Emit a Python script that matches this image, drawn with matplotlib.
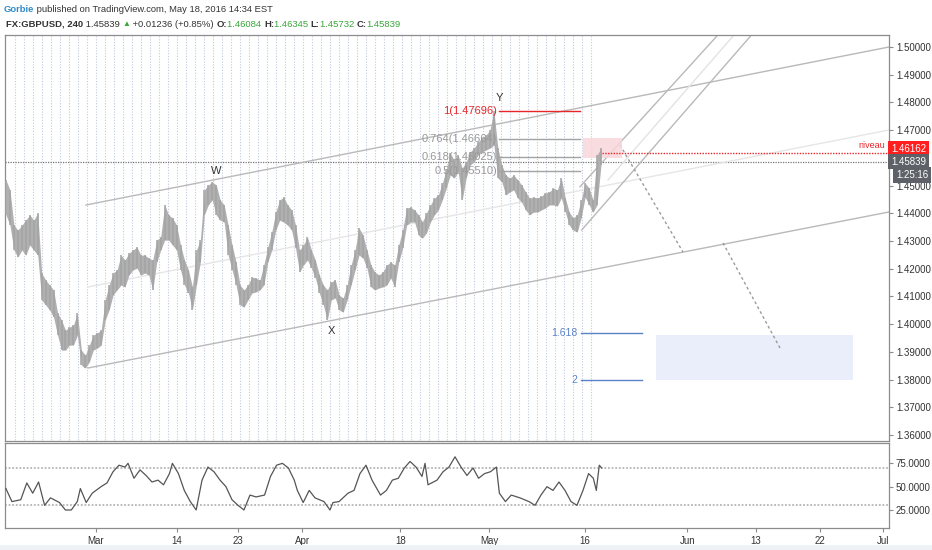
import matplotlib
matplotlib.use('Agg')
import matplotlib.pyplot as plt
import numpy as np
from matplotlib.patches import Rectangle

# ------------------------------------------------------------------ data
# 4h-ish price bars (high / low), GBPUSD, Feb 16 .. May 18 2016
bar_high = [
    1.4520, 1.4484, 1.4357, 1.4339, 1.4357, 1.4375, 1.4394, 1.4375, 1.4401, 1.4184,
    1.4159, 1.4141, 1.4123, 1.4040, 1.4014, 1.3978, 1.3989, 1.3996, 1.4040, 1.3906,
    1.3888, 1.3924, 1.3960, 1.3968, 1.3978, 1.4087, 1.4141, 1.4184, 1.4195, 1.4249,
    1.4231, 1.4256, 1.4267, 1.4278, 1.4249, 1.4249, 1.4238, 1.4231, 1.4303, 1.4314,
    1.4430, 1.4394, 1.4383, 1.4357, 1.4285, 1.4231, 1.4195, 1.4134, 1.4267, 1.4303,
    1.4484, 1.4502, 1.4513, 1.4502, 1.4448, 1.4430, 1.4357, 1.4285, 1.4224, 1.4141,
    1.4123, 1.4141, 1.4170, 1.4166, 1.4159, 1.4213, 1.4278, 1.4332, 1.4404, 1.4448,
    1.4458, 1.4430, 1.4412, 1.4357, 1.4267, 1.4285, 1.4314, 1.4267, 1.4231, 1.4177,
    1.4141, 1.4123, 1.4152, 1.4159, 1.4105, 1.4094, 1.4141, 1.4213, 1.4267, 1.4347,
    1.4321, 1.4267, 1.4213, 1.4188, 1.4177, 1.4188, 1.4213, 1.4224, 1.4213, 1.4285,
    1.4339, 1.4419, 1.4422, 1.4412, 1.4394, 1.4368, 1.4401, 1.4430, 1.4455, 1.4466,
    1.4509, 1.4556, 1.4617, 1.4592, 1.4610, 1.4563, 1.4585, 1.4621, 1.4635, 1.4657,
    1.4672, 1.4682, 1.4700, 1.4770, 1.4635, 1.4574, 1.4538, 1.4527, 1.4538, 1.4520,
    1.4502, 1.4477, 1.4455, 1.4458, 1.4455, 1.4462, 1.4473, 1.4477, 1.4491, 1.4484,
    1.4527, 1.4455, 1.4404, 1.4383, 1.4394, 1.4448, 1.4509, 1.4491, 1.4448, 1.4610,
    1.4635]
bar_low = [
    1.4394, 1.4357, 1.4267, 1.4242, 1.4267, 1.4249, 1.4285, 1.4267, 1.4249, 1.4087,
    1.4069, 1.4051, 1.4025, 1.3960, 1.3906, 1.3906, 1.3924, 1.3924, 1.3960, 1.3852,
    1.3841, 1.3863, 1.3906, 1.3913, 1.3924, 1.4014, 1.4051, 1.4105, 1.4123, 1.4141,
    1.4134, 1.4177, 1.4195, 1.4202, 1.4177, 1.4184, 1.4177, 1.4123, 1.4224, 1.4267,
    1.4303, 1.4303, 1.4285, 1.4267, 1.4195, 1.4141, 1.4112, 1.4051, 1.4141, 1.4224,
    1.4394, 1.4430, 1.4448, 1.4394, 1.4375, 1.4368, 1.4249, 1.4195, 1.4141, 1.4069,
    1.4061, 1.4087, 1.4112, 1.4116, 1.4123, 1.4141, 1.4224, 1.4267, 1.4339, 1.4375,
    1.4368, 1.4357, 1.4339, 1.4274, 1.4188, 1.4213, 1.4231, 1.4202, 1.4166, 1.4112,
    1.4069, 1.4014, 1.4087, 1.4094, 1.4051, 1.4043, 1.4087, 1.4141, 1.4195, 1.4249,
    1.4238, 1.4202, 1.4134, 1.4123, 1.4130, 1.4134, 1.4141, 1.4166, 1.4134, 1.4224,
    1.4274, 1.4357, 1.4368, 1.4368, 1.4321, 1.4310, 1.4329, 1.4368, 1.4394, 1.4412,
    1.4448, 1.4491, 1.4538, 1.4527, 1.4549, 1.4448, 1.4527, 1.4574, 1.4585, 1.4610,
    1.4621, 1.4628, 1.4635, 1.4646, 1.4527, 1.4513, 1.4466, 1.4477, 1.4484, 1.4455,
    1.4440, 1.4412, 1.4394, 1.4404, 1.4404, 1.4412, 1.4419, 1.4430, 1.4430, 1.4426,
    1.4455, 1.4404, 1.4357, 1.4339, 1.4332, 1.4383, 1.4458, 1.4430, 1.4404, 1.4430,
    1.4574]
first_bar_day = -10.0      # trading-day index (0 = Mar 1)
last_bar_day = 56.11

# RSI(14)
rsi_day = [
    -10.01, -9.34, -8.36, -7.69, -7.03, -6.38, -5.71, -5.06, -4.06, -3.40,
    -2.74, -2.08, -1.74, -1.09, -0.42, 0.56, 1.22, 1.89, 2.56, 3.22,
    3.56, 4.22, 4.89, 5.56, 6.22, 6.89, 7.50, 8.16, 8.49, 9.16,
    9.81, 10.48, 11.13, 11.78, 12.44, 13.11, 13.78, 14.44, 15.11, 15.78,
    16.44, 17.11, 17.78, 18.73, 19.39, 20.06, 20.71, 21.38, 22.03, 22.37,
    23.02, 23.69, 24.33, 25.33, 26.00, 26.33, 27.00, 28.00, 28.67, 29.33,
    30.00, 30.67, 31.61, 32.27, 32.93, 33.59, 34.26, 34.89, 35.56, 36.22,
    36.56, 36.89, 37.89, 38.56, 39.22, 39.89, 40.56, 41.22, 41.89, 42.51,
    43.17, 43.83, 44.49, 44.82, 45.49, 46.14, 47.11, 48.11, 48.78, 49.44,
    50.11, 50.78, 51.44, 52.11, 52.78, 53.44, 54.11, 54.73, 55.26, 55.59,
    55.92, 56.19]
rsi_val = [
    48, 34, 36, 54, 43, 55, 30, 38, 33, 25,
    25, 34, 48, 33, 43, 50, 54, 66, 73, 71,
    75, 59, 68, 62, 55, 57, 52, 64, 75, 64,
    46, 34, 25, 57, 71, 66, 57, 50, 36, 30,
    25, 41, 39, 41, 61, 73, 75, 70, 57, 46,
    33, 46, 38, 34, 25, 33, 34, 43, 46, 64,
    73, 57, 41, 46, 57, 59, 70, 77, 71, 61,
    75, 52, 57, 66, 71, 82, 71, 62, 70, 59,
    64, 66, 71, 43, 34, 41, 38, 34, 30, 41,
    50, 46, 55, 46, 34, 30, 46, 64, 59, 46,
    73, 70]

date_labels = ['Mar', '14', '23', 'Apr', '18', 'May', '16', 'Jun', '13', '22', 'Jul']
date_pos = [0.0, 9.0, 15.8, 22.9, 33.8, 43.7, 54.3, 65.7, 73.3, 80.4, 87.5]
price_ticks = [1.36, 1.37, 1.38, 1.39, 1.40, 1.41, 1.42, 1.43, 1.44, 1.45, 1.46, 1.47, 1.48, 1.49, 1.50]
hidden_price_ticks = [1.46]          # covered by the price boxes in the reference
rsi_ticks = [25, 50, 75]

last_price = 1.45839
niveau_price = 1.46162
fib_names = ['1', '0.764', '0.618', '0.5']
fib_prices = [1.47696, 1.46664, 1.46025, 1.45510]
ext_names = ['1.618', '2']
ext_prices = [1.39679, 1.37983]
wave_names = ['W', 'X', 'Y']
wave_day = [13.33, 26.11, 44.78]
wave_price = [1.45525, 1.39751, 1.48160]

# trend drawings: (day0, price0, day1, price1)
channel_lines = [(-1.11, 1.44298, 88.11, 1.50000),
                 (-0.89, 1.38416, 88.11, 1.44046)]
channel_mid = [(-0.89, 1.41339, 88.11, 1.47005)]
rising_lines = [(53.97, 1.43396, 74.28, 1.50974),
                (53.78, 1.44959, 70.61, 1.50974)]
rising_mid = [(56.89, 1.45200, 72.33, 1.50974)]
projections = [(58.22, 1.46463, 65.22, 1.42602),
               (69.67, 1.42927, 76.00, 1.39138)]

header_line1 = [('Gorbie', '#2e8bc9', 'bold'),
                (' published on TradingView.com, May 18, 2016 14:34 EST', '#333333', 'normal')]
header_line2 = [('FX:GBPUSD, 240', '#333333', 'bold'),
                (' 1.45839 ', '#333333', 'normal'),
                ('▲', '#3aa63a', 'normal'),
                (' +0.01236 (+0.85%) ', '#333333', 'normal'),
                ('O:', '#333333', 'bold'), ('1.46084 ', '#3aa63a', 'normal'),
                ('H:', '#333333', 'bold'), ('1.46345 ', '#3aa63a', 'normal'),
                ('L:', '#333333', 'bold'), ('1.45732 ', '#3aa63a', 'normal'),
                ('C:', '#333333', 'bold'), ('1.45839', '#3aa63a', 'normal')]

# ------------------------------------------------------------------ figure
W, H = 932, 550
fig = plt.figure(figsize=(W / 100, H / 100), dpi=100)
fig.patch.set_facecolor('white')
plt.rcParams['font.family'] = ['Liberation Sans', 'DejaVu Sans']

def fx(px):
    return px / W

def fy(py):
    return 1 - py / H

# bottom light band
fig.patches.append(Rectangle((0, 0), 1, fy(545), transform=fig.transFigure,
                             facecolor='#eef1f6', edgecolor='none', zorder=0))

L, R = 5, 889
ax = fig.add_axes([fx(L), fy(441), fx(R - L), (441 - 35) / H])
axr = fig.add_axes([fx(L), fy(528), fx(R - L), (528 - 443) / H], sharex=ax)

xmin, xmax = (L - 96) / 9.0, (R - 96) / 9.0
ax.set_xlim(xmin, xmax)
ax.set_ylim(1.5 - (441 - 47) / 2771, 1.5 + 12 / 2771)
axr.set_ylim(5.7, 96.8)

spine_c = '#8c8c8c'
for a in (ax, axr):
    for s in a.spines.values():
        s.set_color(spine_c)
        s.set_linewidth(0.9)

# session separators (one per trading day)
days = np.arange(-9, 56)
ax.vlines(days, 1.30, 1.60, colors='#c0c9df', linestyles=(0, (1, 1.5)), linewidth=0.8, zorder=1)

# bars
t = np.linspace(first_bar_day, last_bar_day, len(bar_high))
ax.fill_between(t, bar_low, bar_high, color='#b0b0b0', linewidth=0, zorder=3)
ax.vlines(t, bar_low, bar_high, colors='#a4a4a4', linewidth=1.1, zorder=3)

# current price dotted line and niveau
ax.axhline(last_price, color='#777777', linestyle=(0, (1, 1)), linewidth=0.9, zorder=2)
ax.plot([56.19, xmax + 1], [niveau_price] * 2, color='#e8262a', linestyle=(0, (1, 1)),
        linewidth=1.0, zorder=4)
ax.text(xmax - 0.45, niveau_price + 0.0013, 'niveau', color='#e8262a', fontsize=6.5,
        ha='right', va='bottom', zorder=6)

# channels
for d0, p0, d1, p1 in channel_lines:
    ax.plot([d0, d1], [p0, p1], color='#b9b9b9', linewidth=1.0, zorder=2)
for d0, p0, d1, p1 in channel_mid:
    ax.plot([d0, d1], [p0, p1], color='#e6e6e6', linewidth=1.0, zorder=2)
for d0, p0, d1, p1 in rising_lines:
    ax.plot([d0, d1], [p0, p1], color='#b9b9b9', linewidth=1.0, zorder=2)
for d0, p0, d1, p1 in rising_mid:
    ax.plot([d0, d1], [p0, p1], color='#e3e3e3', linewidth=1.0, zorder=2)
for d0, p0, d1, p1 in projections:
    ax.plot([d0, d1], [p0, p1], color='#9a9a9a', linestyle=(0, (2, 2)), linewidth=1.0, zorder=2)

# pink zone
ax.add_patch(Rectangle((54.11, 1.45994), 58.44 - 54.11, 1.46716 - 1.45994,
                       facecolor='#f9d6da', edgecolor='none', alpha=0.85, zorder=2))

# fib retracement
for name, p in zip(fib_names, fib_prices):
    red = name == '1'
    c = '#e8262a' if red else '#a3a3a3'
    ax.plot([44.78, 53.78], [p, p], color=c, linewidth=1.0, zorder=4)
    ax.text(44.55, p, f'{name}({p:.5f})', color='#e8262a' if red else '#999999',
            fontsize=8, ha='right', va='center', zorder=5)

# fib extension
for name, p in zip(ext_names, ext_prices):
    ax.plot([53.89, 60.67], [p, p], color='#5a82c8', linewidth=1.0, zorder=4)
    ax.text(53.5, p, name, color='#5a82c8', fontsize=7.5, ha='right', va='center', zorder=5)
ax.add_patch(Rectangle((62.22, 1.37983), 84.11 - 62.22, 1.39607 - 1.37983,
                       facecolor='#e9eefa', edgecolor='none', zorder=1))

# wave labels
for name, d, p in zip(wave_names, wave_day, wave_price):
    ax.text(d, p, name, color='#333333', fontsize=8, ha='center', va='center', zorder=6)

# price axis
ax.yaxis.tick_right()
ax.set_yticks(price_ticks)
ax.set_yticklabels(['' if any(abs(v - h) < 1e-9 for h in hidden_price_ticks) else f'{v:.5f}'
                    for v in price_ticks])
ax.tick_params(axis='y', which='both', length=3, width=0.8, color=spine_c, pad=2,
               labelsize=7, labelcolor='#333333')
ax.tick_params(axis='x', which='both', bottom=False, labelbottom=False)

# RSI pane
axr.plot(rsi_day, rsi_val, color='#555555', linewidth=0.9, zorder=3)
for lvl in (70, 30):
    axr.axhline(lvl, color='#b5b5b5', linestyle=(0, (1, 1)), linewidth=1.3, zorder=1)
axr.yaxis.tick_right()
axr.set_yticks(rsi_ticks)
axr.set_yticklabels([f'{v:.4f}' for v in rsi_ticks])
axr.tick_params(axis='y', length=3, width=0.8, color=spine_c, pad=2,
                labelsize=7, labelcolor='#333333')
axr.set_xticks(date_pos)
axr.set_xticklabels(date_labels)
axr.tick_params(axis='x', length=3, width=0.8, color=spine_c, pad=3,
                labelsize=7, labelcolor='#333333')

# right-side price boxes
def pricebox(py, text, fc, x=891):
    fig.text(fx(x), fy(py), text, color='white', fontsize=7, ha='left', va='center',
             bbox=dict(boxstyle='square,pad=0.28', facecolor=fc, edgecolor='none'), zorder=10)

pricebox(148.5, '1.46162', '#ff1f1f')
pricebox(161.5, '1.45839', '#5e6168')
pricebox(175.0, '1:25:16', '#5e6168', x=896)

# header, chained piece by piece
renderer = fig.canvas.get_renderer()

def chain(x0, py, pieces, size):
    x = x0
    for s, c, w in pieces:
        tx = fig.text(fx(x), fy(py), s, color=c, fontsize=size if s != '▲' else size - 1,
                      weight=w, ha='left', va='center')
        bb = tx.get_window_extent(renderer=renderer)
        x += bb.width

chain(4, 9.5, header_line1, 6.75)
chain(6, 24.5, header_line2, 6.8)

fig.savefig('out.png', dpi=100, facecolor=fig.get_facecolor())
